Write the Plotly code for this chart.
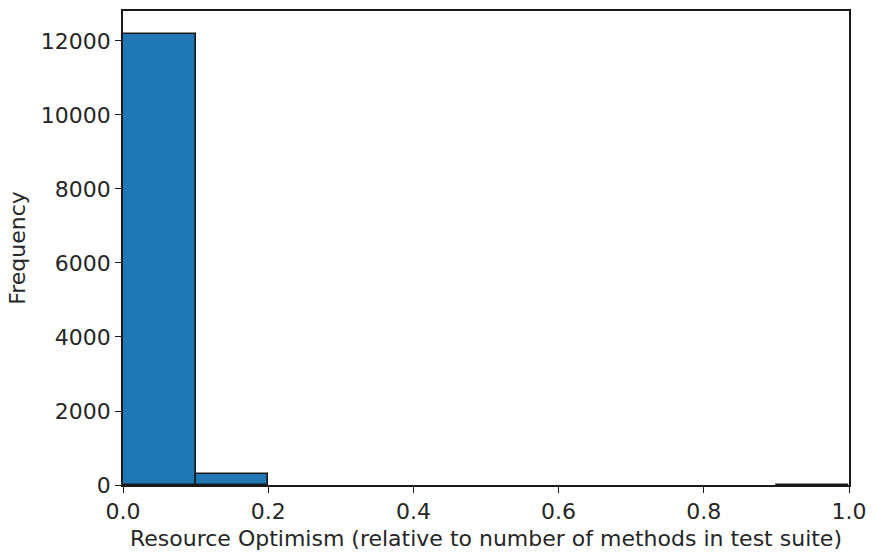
import plotly.graph_objects as go

# Histogram of resource optimism (10 equal-width bins on [0, 1])
bin_edges = [0.0, 0.1, 0.2, 0.3, 0.4, 0.5, 0.6, 0.7, 0.8, 0.9, 1.0]
counts = [12200, 310, 0, 0, 0, 0, 0, 0, 0, 8]

x_ticks = [0.0, 0.2, 0.4, 0.6, 0.8, 1.0]
y_ticks = [0, 2000, 4000, 6000, 8000, 10000, 12000]

centers = [(a + b) / 2 for a, b in zip(bin_edges[:-1], bin_edges[1:])]
widths = [b - a for a, b in zip(bin_edges[:-1], bin_edges[1:])]
# empty bins get no outline so the baseline stays thin
edge_widths = [1.6 if c > 0 else 0 for c in counts]

text_color = "#262626"
font = dict(family="DejaVu Sans", size=22, color=text_color)

fig = go.Figure(
    go.Bar(
        x=centers,
        y=counts,
        width=widths,
        marker=dict(color="#1f77b4", line=dict(color="#1a1a1a", width=edge_widths)),
        hoverinfo="skip",
    )
)

fig.update_layout(
    width=876,
    height=558,
    margin=dict(l=123, r=18, t=9, b=73),
    paper_bgcolor="white",
    plot_bgcolor="white",
    font=font,
    showlegend=False,
    bargap=0,
)

axis_common = dict(
    showline=True,
    linecolor="#1a1a1a",
    linewidth=1.5,
    mirror=True,
    showgrid=False,
    zeroline=False,
    ticks="outside",
    ticklen=6,
    tickwidth=1.3,
    tickcolor="#1a1a1a",
    tickfont=font,
    ticklabeloverflow="allow",
)

fig.update_xaxes(
    range=[0, 1],
    tickvals=x_ticks,
    ticktext=[f"{v:.1f}" for v in x_ticks],
    title=dict(text="Resource Optimism (relative to number of methods in test suite)",
               font=font, standoff=7),
    **axis_common,
)
fig.update_yaxes(
    range=[0, max(counts) * 1.05],
    tickvals=y_ticks,
    ticktext=[str(v) for v in y_ticks],
    title=dict(text="Frequency", font=font, standoff=9),
    **axis_common,
)

fig.write_html("out.html")
